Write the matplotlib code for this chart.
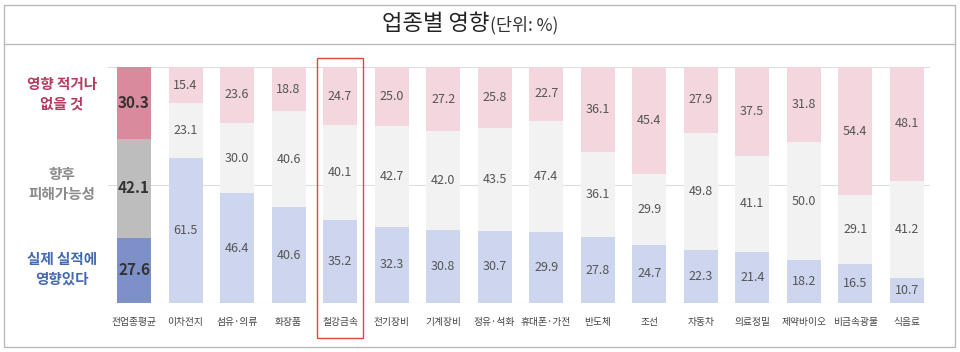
import numpy as np
import matplotlib.pyplot as plt
import matplotlib.transforms as mtransforms
from matplotlib.patches import Rectangle

plt.rcParams['font.family'] = ['Noto Sans CJK KR', 'DejaVu Sans']

# data (percent)
industries = ['전업종평균', '이차전지', '섬유·의류', '화장품', '철강금속', '전기장비', '기계장비',
              '정유·석화', '휴대폰·가전', '반도체', '조선', '자동차', '의료정밀', '제약바이오',
              '비금속광물', '식음료']
actual = [27.6, 61.5, 46.4, 40.6, 35.2, 32.3, 30.8, 30.7, 29.9, 27.8, 24.7, 22.3, 21.4, 18.2, 16.5, 10.7]
possible = [42.1, 23.1, 30.0, 40.6, 40.1, 42.7, 42.0, 43.5, 47.4, 36.1, 29.9, 49.8, 41.1, 50.0, 29.1, 41.2]
little = [30.3, 15.4, 23.6, 18.8, 24.7, 25.0, 27.2, 25.8, 22.7, 36.1, 45.4, 27.9, 37.5, 31.8, 54.4, 48.1]
highlight = '철강금속'

fig = plt.figure(figsize=(9.6, 3.52), dpi=100)
ax = fig.add_axes([108/960, 49/352, 822/960, 236/352])

x = np.arange(len(industries))
w = 0.66
blue = ['#7d90c7'] + ['#cdd6ee'] * (len(x) - 1)
gray = ['#bdbdbd'] + ['#f2f2f2'] * (len(x) - 1)
pink = ['#d98a9c'] + ['#f4d6de'] * (len(x) - 1)

actual = np.array(actual)
possible = np.array(possible)
little = np.array(little)

ax.bar(x, actual, w, color=blue, zorder=2)
ax.bar(x, possible, w, bottom=actual, color=gray, zorder=2)
ax.bar(x, little, w, bottom=actual + possible, color=pink, zorder=2)

# gridlines
for g in [50, 100]:
    ax.axhline(g, color='#dddddd', lw=0.8, zorder=1)
ax.axhline(0, color='#d0d0d0', lw=0.8, zorder=3)

# value labels
for i in x:
    segs = [(actual[i], 0), (possible[i], actual[i]), (little[i], actual[i] + possible[i])]
    for v, b in segs:
        if i == 0:
            ax.text(i, b + v/2, f'{v:.1f}', ha='center', va='center', fontsize=11,
                    fontweight='bold', color='#333333', zorder=4)
        else:
            ax.text(i, b + v/2, f'{v:.1f}', ha='center', va='center', fontsize=9,
                    color='#555555', zorder=4)

ax.set_xlim(-0.505, 15.45)
ax.set_ylim(0, 100)
ax.set_xticks(x, industries, fontsize=7, color='#444444')
ax.tick_params(axis='x', length=0, pad=10)
ax.set_yticks([])
for s in ax.spines.values():
    s.set_visible(False)

# highlight box
hi = industries.index(highlight)
trans = mtransforms.blended_transform_factory(ax.transData, fig.transFigure)
ax.add_patch(Rectangle((hi - 0.45, 14/352), 0.9, 280/352, transform=trans, fill=False,
                       edgecolor='#e0473f', lw=1.0, clip_on=False, zorder=5))

# side legend labels
fig.text(62/960, 1 - 94/352, '영향 적거나\n없을 것', ha='center', va='center', fontsize=10.5,
         fontweight='bold', color='#b53a5e', linespacing=1.3)
fig.text(62/960, 1 - 184/352, '향후\n피해가능성', ha='center', va='center', fontsize=10.5,
         fontweight='bold', color='#8a8a8a', linespacing=1.3)
fig.text(62/960, 1 - 269/352, '실제 실적에\n영향있다', ha='center', va='center', fontsize=10.5,
         fontweight='bold', color='#4468b0', linespacing=1.3)

# title and frame
fig.text(490/960, 1 - 23/352, '업종별 영향', ha='right', va='center', fontsize=16,
         fontweight='medium', color='#222222')
fig.text(490/960, 1 - 25/352, '(단위: %)', ha='left', va='center', fontsize=12.5, color='#333333')
fig.add_artist(Rectangle((4/960, 5/352), 951/960, 342/352, transform=fig.transFigure,
                         fill=False, edgecolor='#bbbbbb', lw=1.0))
fig.add_artist(plt.Line2D([4/960, 955/960], [1 - 44/352, 1 - 44/352], transform=fig.transFigure,
                          color='#bbbbbb', lw=1.0))

plt.savefig('out.png', dpi=100)
